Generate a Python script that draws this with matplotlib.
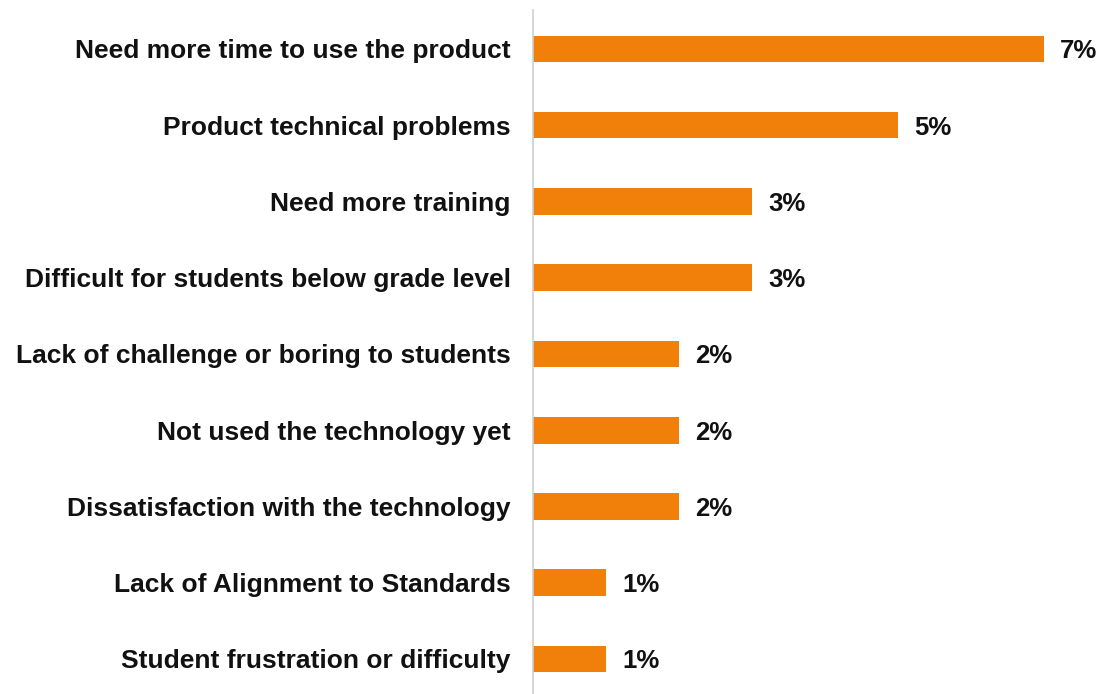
import matplotlib.pyplot as plt

plt.rcParams['font.family'] = ['Liberation Sans', 'DejaVu Sans']

categories = [
    'Need more time to use the product',
    'Product technical problems',
    'Need more training',
    'Difficult for students below grade level',
    'Lack of challenge or boring to students',
    'Not used the technology yet',
    'Dissatisfaction with the technology',
    'Lack of Alignment to Standards',
    'Student frustration or difficulty',
]
values = [7, 5, 3, 3, 2, 2, 2, 1, 1]
labels = ['7%', '5%', '3%', '3%', '2%', '2%', '2%', '1%', '1%']

fig = plt.figure(figsize=(11.01, 6.94), dpi=100)
# axes: left edge at the vertical axis line, spans to the right edge
ax = fig.add_axes([533 / 1101, 0, 568 / 1101, 684 / 694])

y = range(len(categories))
ax.barh(y, values, height=0.35, color='#F0800A')

for i, (v, lab) in enumerate(zip(values, labels)):
    ax.text(v + 0.22, i, lab, va='center_baseline', ha='left',
            fontsize=18.5, fontweight='bold', color='#111111')

ax.set_xlim(0, 568 / 73)
ax.set_ylim(8.46, -0.51)
ax.set_yticks(list(y))
ax.set_yticklabels(categories, fontsize=19, fontweight='bold', color='#111111',
                   va='center_baseline')
ax.tick_params(axis='y', length=0, pad=16)
ax.set_xticks([])

for side in ['top', 'right', 'bottom']:
    ax.spines[side].set_visible(False)
ax.spines['left'].set_color('#d0d0d0')
ax.spines['left'].set_linewidth(1.2)

fig.savefig('out.png', dpi=100)
